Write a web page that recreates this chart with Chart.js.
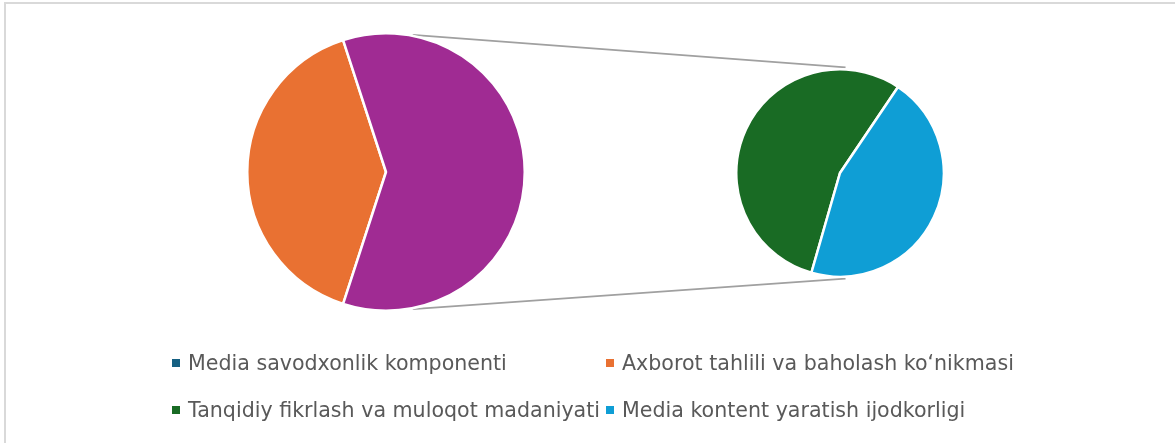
<!DOCTYPE html>
<html><head><meta charset="utf-8">
<script src="https://cdn.jsdelivr.net/npm/chart.js@4"></script>
<style>
html,body{margin:0;padding:0;background:#fff;}
#wrap{position:relative;width:1175px;height:443px;overflow:hidden;background:#fff;}
#frame{position:absolute;left:4px;top:2px;width:1300px;height:600px;border-left:2px solid #d9d9d9;border-top:2px solid #d9d9d9;}
canvas{position:absolute;}
.leg{position:absolute;font-family:"DejaVu Sans",sans-serif;font-size:20.6px;color:#595959;white-space:nowrap;line-height:1;}
.mk{position:absolute;width:8px;height:8px;}
</style></head>
<body><div id="wrap"><div id="frame"></div>
<canvas id="lines" width="1175" height="443" style="left:0;top:0"></canvas>
<canvas id="c1" width="280" height="280" style="left:246px;top:32px"></canvas>
<canvas id="c2" width="210" height="210" style="left:735px;top:68px"></canvas>
<div id="legend"></div>
</div>
<script>
const categories = ["Media savodxonlik komponenti","Axborot tahlili va baholash ko‘nikmasi","Tanqidiy fikrlash va muloqot madaniyati","Media kontent yaratish ijodkorligi"];
const values = [0, 40, 33, 27];
const colors = ["#156082","#E97132","#196B24","#0F9ED5"];
const otherColor = "#A02B93";
const secondPlotCount = 2;

const nMain = values.length - secondPlotCount;
const mainVals = values.slice(0, nMain);
const subVals = values.slice(nMain);
const otherVal = subVals.reduce((a,b)=>a+b,0);
const total = mainVals.reduce((a,b)=>a+b,0) + otherVal;
const mainRotation = 90 + (otherVal/total)*180;

const common = {responsive:false, animation:false, plugins:{legend:{display:false}, tooltip:{enabled:false}}, layout:{padding:0}};
const ch1 = new Chart(document.getElementById('c1'), {
  type:'pie',
  data:{labels:categories.slice(0,nMain).concat(['Other']), datasets:[{data:mainVals.concat([otherVal]), backgroundColor:colors.slice(0,nMain).concat([otherColor]), borderColor:'#fff', borderWidth:2.5}]},
  options:Object.assign({rotation:mainRotation}, common)
});
const ch2 = new Chart(document.getElementById('c2'), {
  type:'pie',
  data:{labels:categories.slice(nMain), datasets:[{data:subVals, backgroundColor:colors.slice(nMain), borderColor:'#fff', borderWidth:2.5}]},
  options:Object.assign({rotation:196}, common)
});

function geom(ch, el){
  const a = ch.getDatasetMeta(0).data[0];
  return {x: el.offsetLeft + a.x, y: el.offsetTop + a.y, r: a.outerRadius};
}
const g1 = geom(ch1, document.getElementById('c1'));
const g2 = geom(ch2, document.getElementById('c2'));
const ctx = document.getElementById('lines').getContext('2d');
ctx.strokeStyle = '#a0a0a0';
ctx.lineWidth = 1.8;
function pt(g, deg, extra){ const t = deg*Math.PI/180; return [g.x + (g.r+extra)*Math.sin(t), g.y - (g.r+extra)*Math.cos(t)]; }
[[11,3],[169,177]].forEach(([a,b])=>{
  const p = pt(g1,a,1), q = pt(g2,b,2);
  ctx.beginPath(); ctx.moveTo(p[0],p[1]); ctx.lineTo(q[0],q[1]); ctx.stroke();
});

const legPos = [[172,363],[606,363],[172,410],[606,410]];
const lg = document.getElementById('legend');
categories.forEach((c,i)=>{
  const [x,y] = legPos[i];
  const m = document.createElement('div'); m.className='mk';
  m.style.left = x+'px'; m.style.top = (y-4)+'px'; m.style.background = colors[i];
  lg.appendChild(m);
  const t = document.createElement('div'); t.className='leg'; t.textContent = c;
  t.style.left = (x+16)+'px'; t.style.top = (y-10)+'px';
  lg.appendChild(t);
});
</script></body></html>
